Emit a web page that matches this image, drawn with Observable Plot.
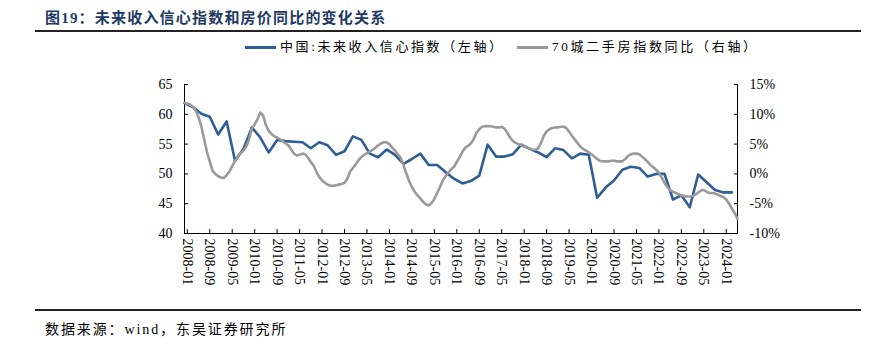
<!DOCTYPE html>
<html>
<head>
<meta charset="utf-8">
<script src="https://cdn.jsdelivr.net/npm/d3@7"></script>
<script src="https://cdn.jsdelivr.net/npm/@observablehq/plot@0.6"></script>
<style>
  body { margin: 0; background: #fff; }
  #wrap { position: relative; width: 872px; height: 344px; font-family: "Liberation Serif", "Noto Sans CJK SC", serif; color: #000; }
  #title { position: absolute; left: 45px; top: 6px; font-size: 15px; font-weight: bold; color: #1F3A64; letter-spacing: 1.2px; white-space: nowrap; }
  #rule1 { position: absolute; left: 35px; top: 30px; width: 826px; border-top: 2px solid #222; }
  .leg { position: absolute; top: 38px; font-size: 13px; white-space: nowrap; line-height: 18px; }
  .sw { display: inline-block; width: 31px; height: 0; border-top: 3px solid; vertical-align: middle; margin-right: 4px; position: relative; top: -1px; }
  #chart { position: absolute; left: 0; top: 60px; }
  #rule2 { position: absolute; left: 35px; top: 309px; width: 826px; border-top: 2px solid #222; }
  #source { position: absolute; left: 45px; top: 318px; font-size: 14px; letter-spacing: 1.9px; white-space: nowrap; }
</style>
</head>
<body>
<div id="wrap">
  <div id="title"></div>
  <div id="rule1"></div>
  <div id="leg1" class="leg" style="left:245px; letter-spacing:2.6px"></div>
  <div id="leg2" class="leg" style="left:517px; letter-spacing:2.7px"></div>
  <div id="chart"></div>
  <div id="rule2"></div>
  <div id="source"></div>
</div>
<script>
// ---- texts ----
const titleText = "图19：未来收入信心指数和房价同比的变化关系";
const sourceText = "数据来源：wind，东吴证券研究所";
const seriesNames = ["中国:未来收入信心指数（左轴）", "70城二手房指数同比（右轴）"];
const seriesColors = ["#2F5D95", "#9A9A9A"];

// ---- x axis ----
const xDomain = ["2007-12", "2024-05"];
const xTickLabels = ["2008-01","2008-09","2009-05","2010-01","2010-09","2011-05","2012-01","2012-09",
  "2013-05","2014-01","2014-09","2015-05","2016-01","2016-09","2017-05","2018-01","2018-09",
  "2019-05","2020-01","2020-09","2021-05","2022-01","2022-09","2023-05","2024-01"];

// ---- y axes ----
const leftTicks = [40, 45, 50, 55, 60, 65];
const rightTickLabels = ["-10%", "-5%", "0%", "5%", "10%", "15%"];
const rightZeroOnLeft = 50; // 0% on the right axis sits at 50 on the left axis (5 pts = 5%)

// ---- series 1: quarterly, future income confidence index (2007Q4 .. 2024Q1, quarter-end months) ----
const blueStart = "2007-12";
const blueValues = [61.9, 61.2, 60.1, 59.6, 56.6, 58.8, 52.2, 54.2, 57.8, 56.1,
  53.6, 55.7, 55.5, 55.4, 55.3, 54.3, 55.3, 54.8, 53.2, 53.8,
  56.3, 55.7, 53.4, 52.8, 54.1, 53.2, 51.7, 52.5, 53.4, 51.5,
  51.5, 50.3, 49.2, 48.4, 48.8, 49.7, 54.9, 52.9, 52.9, 53.3,
  54.9, 54.2, 53.6, 52.8, 54.3, 54.0, 52.6, 53.4, 53.2, 46.0,
  47.7, 48.9, 50.7, 51.2, 51.0, 49.55, 50.0, 50.0, 45.7, 46.4,
  44.4, 49.9, 48.6, 47.3, 46.9, 46.9];

// ---- series 2: monthly, 70-city second-hand house price YoY, % (2007-12 .. 2024-05) ----
const grayStart = "2007-12";
const grayValues = [
  11.9,
  11.8, 11.6, 11.3, 10.6, 9.5, 8.0, 5.8, 3.7, 2.1, 0.5, 0.0, -0.4,
  -0.6, -0.7, -0.2, 0.4, 1.3, 2.2, 2.9, 3.5, 3.9, 4.6, 5.8, 7.6,
  8.3, 9.2, 10.3, 9.8, 8.2, 7.2, 6.7, 6.3, 6.1, 5.8, 5.5, 5.1,
  4.8, 4.1, 3.4, 3.1, 3.2, 3.4, 3.3, 2.7, 2.0, 1.4, 0.3, -0.5,
  -1.1, -1.5, -1.8, -2.0, -2.0, -1.9, -1.8, -1.7, -1.5, -0.8, 0.4, 1.0,
  1.6, 2.3, 2.8, 3.2, 3.5, 3.8, 4.0, 4.4, 4.8, 5.1, 5.3, 5.3,
  5.0, 4.4, 3.9, 3.3, 2.7, 1.5, 0.1, -1.2, -2.2, -3.0, -3.6, -4.1,
  -4.7, -5.1, -5.3, -4.9, -4.2, -3.2, -2.2, -1.1, -0.4, 0.2, 0.8, 1.2,
  2.0, 2.8, 3.7, 4.4, 4.7, 5.1, 5.8, 6.9, 7.5, 7.9, 8.0, 8.05,
  8.0, 7.9, 7.8, 7.8, 7.9, 7.6, 6.9, 6.1, 5.5, 5.2, 5.0, 4.8,
  4.6, 4.4, 4.2, 4.1, 4.05, 4.3, 5.2, 6.4, 7.1, 7.5, 7.7, 7.8,
  7.8, 7.9, 7.9, 7.7, 7.1, 6.4, 5.8, 5.2, 4.6, 4.2, 3.9, 3.6,
  3.3, 2.9, 2.5, 2.2, 2.1, 2.1, 2.1, 2.2, 2.2, 2.1, 2.1, 2.1,
  2.5, 3.0, 3.3, 3.4, 3.4, 3.3, 2.9, 2.5, 2.0, 1.5, 1.1, 0.7,
  0.2, -0.6, -1.5, -2.2, -2.7, -3.0, -3.2, -3.4, -3.6, -3.7, -3.8, -3.8,
  -3.7, -3.5, -3.1, -2.8, -2.7, -3.0, -3.2, -3.2, -3.3, -3.5, -3.7, -3.9,
  -4.3, -5.0, -5.8, -6.6, -7.5];

// ---- helpers ----
function monthIndex(s) { const [y, m] = s.split("-").map(Number); return (y - 2008) * 12 + (m - 1); }

const blueData = blueValues.map((v, i) => ({ m: monthIndex(blueStart) + 3 * i, v }));
const grayData = grayValues.map((v, i) => ({ m: monthIndex(grayStart) + i, v: v + rightZeroOnLeft }));
const xTickValues = xTickLabels.map(monthIndex);
const xMin = monthIndex(xDomain[0]), xMax = monthIndex(xDomain[1]);

document.getElementById("title").textContent = titleText;
document.getElementById("source").textContent = sourceText;
[["leg1", 0], ["leg2", 1]].forEach(([id, k]) => {
  const el = document.getElementById(id);
  const sw = document.createElement("span");
  sw.className = "sw"; sw.style.borderTopColor = seriesColors[k];
  el.appendChild(sw);
  el.appendChild(document.createTextNode(seriesNames[k]));
});

const font = '"Liberation Serif", "Noto Sans CJK SC", serif';
const chart = Plot.plot({
  width: 872,
  height: 250,
  marginLeft: 184,
  marginRight: 135,
  marginTop: 24,
  marginBottom: 77,
  style: { fontFamily: font, fontSize: "14px", color: "#000", background: "transparent", overflow: "visible" },
  x: { type: "linear", domain: [xMin, xMax] },
  y: { domain: [leftTicks[0], leftTicks[leftTicks.length - 1]] },
  marks: [
    Plot.ruleY([leftTicks[0]], { stroke: "#000", strokeWidth: 1 }),
    Plot.ruleX([xMin], { stroke: "#000", strokeWidth: 1 }),
    Plot.ruleX([xMax], { stroke: "#000", strokeWidth: 1 }),
    Plot.axisY({ anchor: "left", ticks: leftTicks, tickSize: -4, tickFormat: () => "", label: null, stroke: "#000" }),
    Plot.axisY({ anchor: "left", ticks: leftTicks, tickSize: 0, tickPadding: 12, label: null, fontSize: 14 }),
    Plot.axisY({ anchor: "right", ticks: leftTicks, tickSize: -4, tickFormat: () => "", label: null, stroke: "#000" }),
    Plot.axisY({ anchor: "right", ticks: leftTicks, tickSize: 0, tickPadding: 12, label: null, fontSize: 14,
      tickFormat: d => rightTickLabels[leftTicks.indexOf(d)] }),
    Plot.axisX({ anchor: "bottom", ticks: xTickValues, tickSize: -4, tickFormat: () => "", label: null, stroke: "#000" }),
    Plot.axisX({ anchor: "bottom", ticks: xTickValues, tickSize: 0, tickPadding: 5, tickRotate: 90, label: null, fontSize: 14,
      tickFormat: d => xTickLabels[xTickValues.indexOf(d)] }),
    Plot.line(blueData, { x: "m", y: "v", stroke: seriesColors[0], strokeWidth: 2.6, strokeLinejoin: "round" }),
    Plot.line(grayData, { x: "m", y: "v", stroke: seriesColors[1], strokeWidth: 2.6, strokeLinejoin: "round" })
  ]
});
document.getElementById("chart").appendChild(chart);
</script>
</body>
</html>
